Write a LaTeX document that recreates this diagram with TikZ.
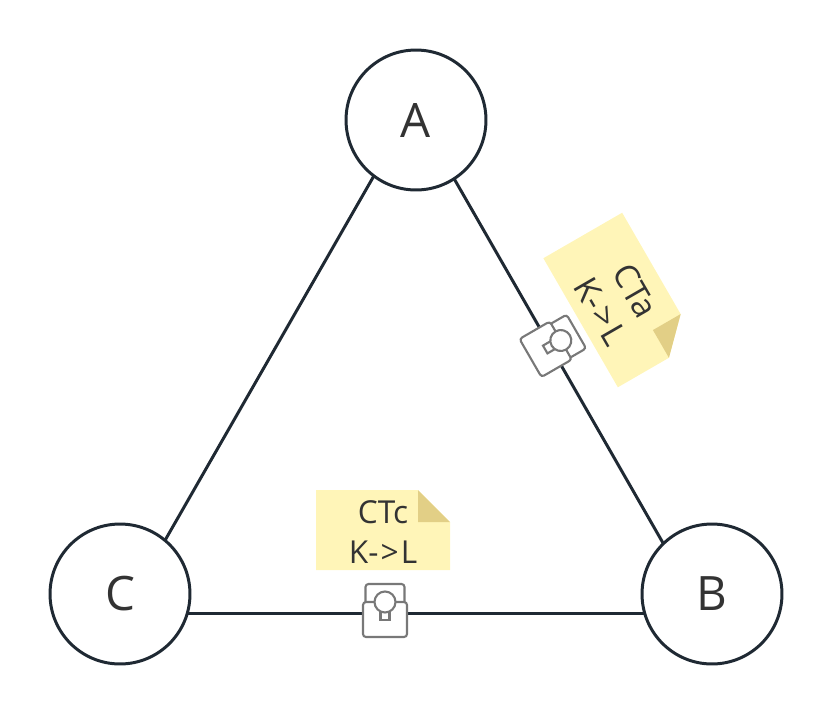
\documentclass[tikz,border=0pt]{standalone}
\usepackage{fontspec}
\setmainfont{Open Sans}
\usepackage{tikz}
\usetikzlibrary{positioning}
\definecolor{ctink}{RGB}{31,41,51}
\definecolor{cttext}{RGB}{51,51,51}
\definecolor{ctnote}{RGB}{255,245,184}
\definecolor{ctfold}{RGB}{226,207,134}
\definecolor{ctgray}{RGB}{120,120,120}
\tikzstyle{party} = [circle, minimum size=2.8cm, inner sep=0pt, outer sep=0pt, draw=ctink, fill=white, line width=1.7pt, text=cttext, font=\fontsize{27}{32}\selectfont]
\tikzstyle{channel} = [line width=1.7pt, color=ctink]
\tikzstyle{notetext} = [align=center, text=cttext, inner sep=0pt, transform shape]
\tikzstyle{markbody} = [rectangle, rounded corners=1.7pt, minimum width=0.88cm, minimum height=0.70cm, inner sep=0pt, outer sep=0pt, draw=ctgray, fill=white, line width=1.2pt]
\tikzstyle{markline} = [draw=ctgray, fill=white, line width=1.2pt]
\newcommand{\kl}{K-\kern1.2pt>\kern1.2pt L}
% #1 node name, #2 placement, #3 half width, #4 half height, #5 font size and baseline, #6 text
\newcommand{\ctnote}[6]{
\begin{scope}[#2]
\fill[ctnote] (-#3,-#4) -- (#3-32,-#4) -- (#3,-#4+32) -- (#3,#4) -- (-#3,#4) -- cycle;
\fill[ctfold] (#3-32,-#4) -- (#3,-#4+32) -- (#3-32,-#4+32) -- cycle;
\node (#1) [notetext, font=\fontsize#5\selectfont] at (0,2) {#6};
\end{scope}
}
% #1 node name, #2 placement
\newcommand{\ctmark}[2]{
\begin{scope}[#2]
\draw[markline, rounded corners=1.7pt] (-19.5,-9) -- (-19.5,-27) -- (19.5,-27) -- (19.5,-9);
\node (#1) [markbody, transform shape] at (0,8.5) {};
\draw[markline] (-4.5,0) rectangle (4.5,9);
\draw[markline] (0,-9) circle (10.5);
\end{scope}
}
\begin{document}
\begin{tikzpicture}[x=0.02cm, y=-0.02cm]
\useasboundingbox (0,0) rectangle (832,714);

% Parties
\node (partyA) [party] at (416,120) {A};
\node (partyB) [party] at (712,594) {B};
\node (partyC) [party] at (120,594) {C};

% Channels
\draw[channel] (partyA.-57) -- (partyB.134);
\draw[channel] (partyA.-127) -- (partyC.50);
\draw[channel] (partyC.-16) -- (partyB.196);

% Channel marks
\ctmark{markCTa}{shift={(553,345)}, rotate=-60}
\ctmark{markCTc}{shift={(385,611)}}

% Notes
\ctnote{noteCTa}{shift={(620,300)}, rotate=-60}{74.5}{45.5}{{19}{23}}{CTa\\\kl}
\ctnote{noteCTc}{shift={(383,530)}}{67}{40}{{18}{22.7}}{CTc\\\kl}
\end{tikzpicture}
\end{document}
